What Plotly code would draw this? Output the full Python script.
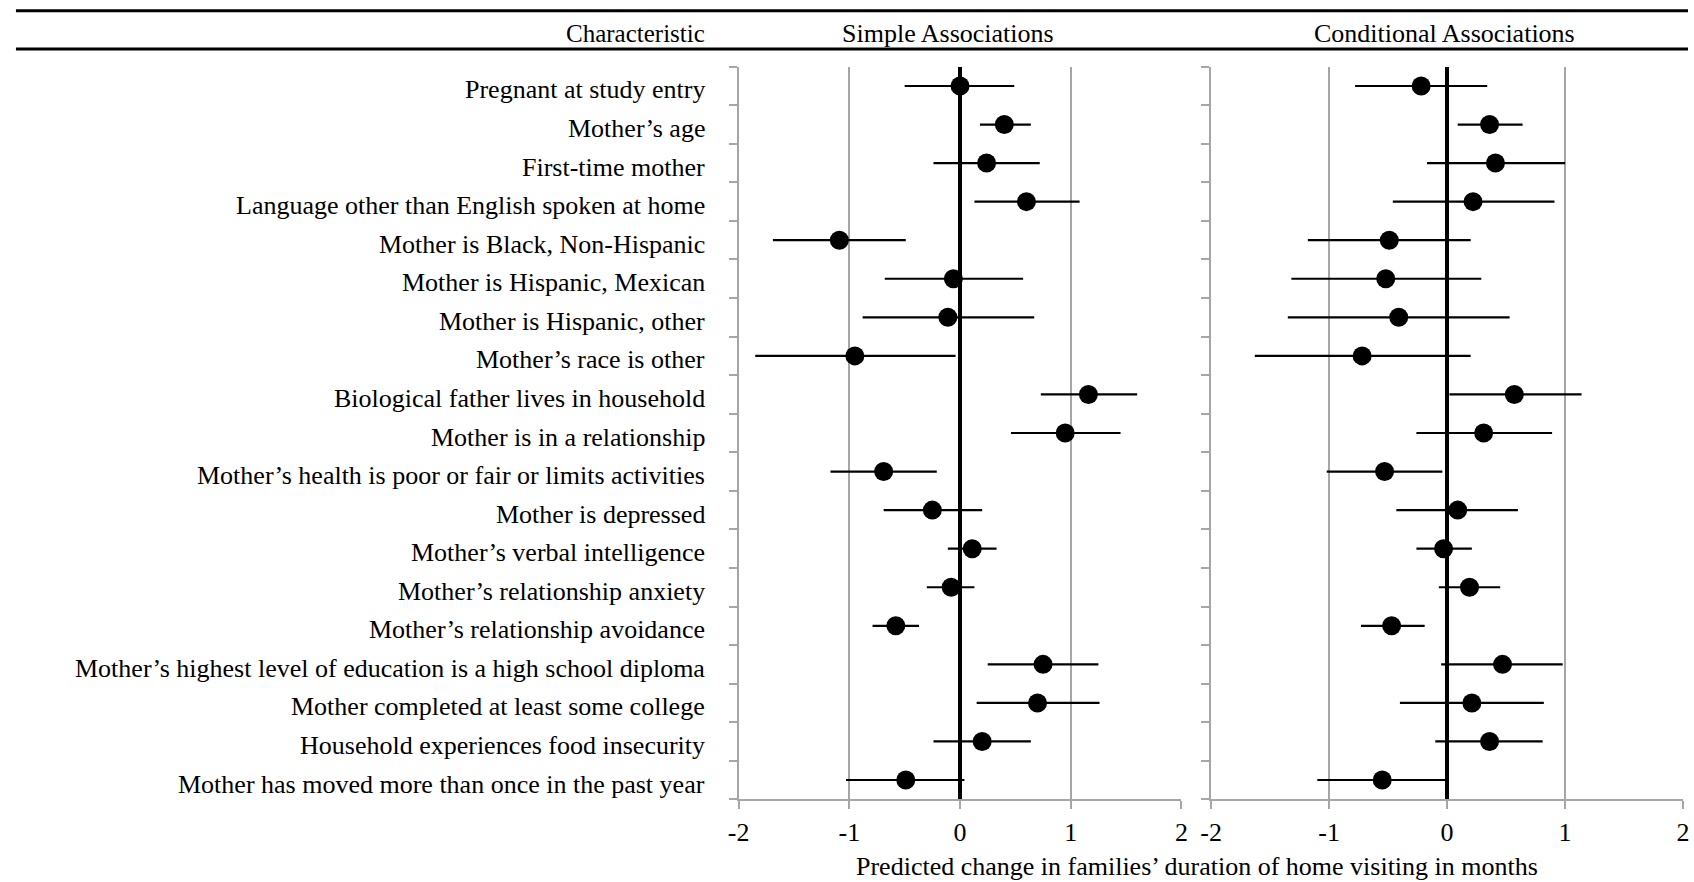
import plotly.graph_objects as go

categories = [
    "Pregnant at study entry",
    "Mother’s age",
    "First-time mother",
    "Language other than English spoken at home",
    "Mother is Black, Non-Hispanic",
    "Mother is Hispanic, Mexican",
    "Mother is Hispanic, other",
    "Mother’s race is other",
    "Biological father lives in household",
    "Mother is in a relationship",
    "Mother’s health is poor or fair or limits activities",
    "Mother is depressed",
    "Mother’s verbal intelligence",
    "Mother’s relationship anxiety",
    "Mother’s relationship avoidance",
    "Mother’s highest level of education is a high school diploma",
    "Mother completed at least some college",
    "Household experiences food insecurity",
    "Mother has moved more than once in the past year",
]

simple_est = [0.00, 0.40, 0.24, 0.60, -1.09, -0.06, -0.11, -0.95, 1.16, 0.95, -0.69, -0.25, 0.11, -0.08, -0.58, 0.75, 0.70, 0.20, -0.49]
simple_lo = [-0.50, 0.18, -0.24, 0.13, -1.69, -0.68, -0.88, -1.85, 0.73, 0.46, -1.17, -0.69, -0.11, -0.30, -0.79, 0.25, 0.15, -0.24, -1.03]
simple_hi = [0.49, 0.64, 0.72, 1.08, -0.49, 0.57, 0.67, -0.04, 1.60, 1.45, -0.21, 0.20, 0.33, 0.13, -0.37, 1.25, 1.26, 0.64, 0.04]

cond_est = [-0.22, 0.36, 0.41, 0.22, -0.49, -0.52, -0.41, -0.72, 0.57, 0.31, -0.53, 0.09, -0.03, 0.19, -0.47, 0.47, 0.21, 0.36, -0.55]
cond_lo = [-0.78, 0.09, -0.17, -0.46, -1.18, -1.32, -1.35, -1.63, 0.02, -0.26, -1.02, -0.43, -0.26, -0.07, -0.73, -0.05, -0.40, -0.10, -1.10]
cond_hi = [0.34, 0.64, 1.00, 0.91, 0.20, 0.29, 0.53, 0.20, 1.14, 0.89, -0.04, 0.60, 0.21, 0.45, -0.19, 0.98, 0.82, 0.81, 0.00]

x_ticks = [-2, -1, 0, 1, 2]
x_tick_labels = ["-2", "-1", "0", "1", "2"]

header_left = "Characteristic"
header_simple = "Simple Associations"
header_cond = "Conditional Associations"
x_title = "Predicted change in families’ duration of home visiting in months"

W, H = 1694, 882
FONT = "Liberation Serif"
GRAY = "#a6a6a6"

rows = list(range(len(categories)))

def px_x(p):
    return p / W

def px_y(p):
    return (H - p) / H

fig = go.Figure()

for est, lo, hi, xa, ya in [
    (simple_est, simple_lo, simple_hi, "x", "y"),
    (cond_est, cond_lo, cond_hi, "x2", "y2"),
]:
    fig.add_trace(go.Scatter(
        x=est, y=rows, mode="markers", xaxis=xa, yaxis=ya,
        marker=dict(size=19, color="black"),
        error_x=dict(type="data", symmetric=False,
                     array=[h - e for h, e in zip(hi, est)],
                     arrayminus=[e - l for e, l in zip(est, lo)],
                     color="black", thickness=2.2, width=0),
        showlegend=False, hoverinfo="skip",
    ))

y_dom = [px_y(799.3), px_y(66.7)]
half_ticks = [i - 0.5 for i in range(len(categories) + 1)]

def xaxis_cfg(dom, anchor):
    return dict(
        domain=dom, anchor=anchor, range=[-2, 2],
        tickmode="array", tickvals=x_ticks, ticktext=x_tick_labels,
        showgrid=True, gridcolor=GRAY, gridwidth=1.6,
        zeroline=True, zerolinecolor="black", zerolinewidth=4,
        showline=True, linecolor=GRAY, linewidth=2,
        ticks="outside", ticklen=8, tickcolor=GRAY, tickwidth=2,
        tickfont=dict(family=FONT, size=26, color="black"),
        fixedrange=True,
    )

def yaxis_cfg(anchor):
    return dict(
        domain=y_dom, anchor=anchor, range=[len(categories) - 0.5, -0.5],
        tickmode="array", tickvals=half_ticks, showticklabels=False,
        ticks="outside", ticklen=8, tickcolor=GRAY, tickwidth=2,
        showline=True, linecolor=GRAY, linewidth=2,
        showgrid=False, zeroline=False, fixedrange=True,
    )

annotations = []
for i, cat in enumerate(categories):
    annotations.append(dict(
        text=cat, x=px_x(703), xref="paper", xanchor="right",
        y=i, yref="y", yanchor="middle", yshift=-4, showarrow=False,
        font=dict(family=FONT, size=26, color="black"),
    ))

annotations += [
    dict(text=header_left, x=px_x(703), xref="paper", xanchor="right",
         y=px_y(33), yref="paper", yanchor="middle", showarrow=False,
         font=dict(family=FONT, size=25, color="black")),
    dict(text=header_simple, x=px_x(947), xref="paper", xanchor="center",
         y=px_y(33), yref="paper", yanchor="middle", showarrow=False,
         font=dict(family=FONT, size=26, color="black")),
    dict(text=header_cond, x=px_x(1448), xref="paper", xanchor="center",
         y=px_y(33), yref="paper", yanchor="middle", showarrow=False,
         font=dict(family=FONT, size=26, color="black")),
    dict(text=x_title, x=px_x(1198), xref="paper", xanchor="center",
         y=px_y(866), yref="paper", yanchor="middle", showarrow=False,
         font=dict(family=FONT, size=26, color="black")),
]

shapes = [
    dict(type="line", xref="paper", yref="paper", x0=px_x(5), x1=1,
         y0=px_y(10.7), y1=px_y(10.7), line=dict(color="black", width=3)),
    dict(type="line", xref="paper", yref="paper", x0=px_x(5), x1=1,
         y0=px_y(49), y1=px_y(49), line=dict(color="black", width=3)),
]

fig.update_layout(
    width=W, height=H,
    margin=dict(l=0, r=0, t=0, b=0),
    paper_bgcolor="white", plot_bgcolor="white",
    xaxis=xaxis_cfg([px_x(735), px_x(1182.3)], "y"),
    yaxis=yaxis_cfg("x"),
    xaxis2=xaxis_cfg([px_x(1212.3), px_x(1689)], "y2"),
    yaxis2=yaxis_cfg("x2"),
    annotations=annotations,
    shapes=shapes,
    font=dict(family=FONT, color="black"),
)

fig.write_html("out.html")
